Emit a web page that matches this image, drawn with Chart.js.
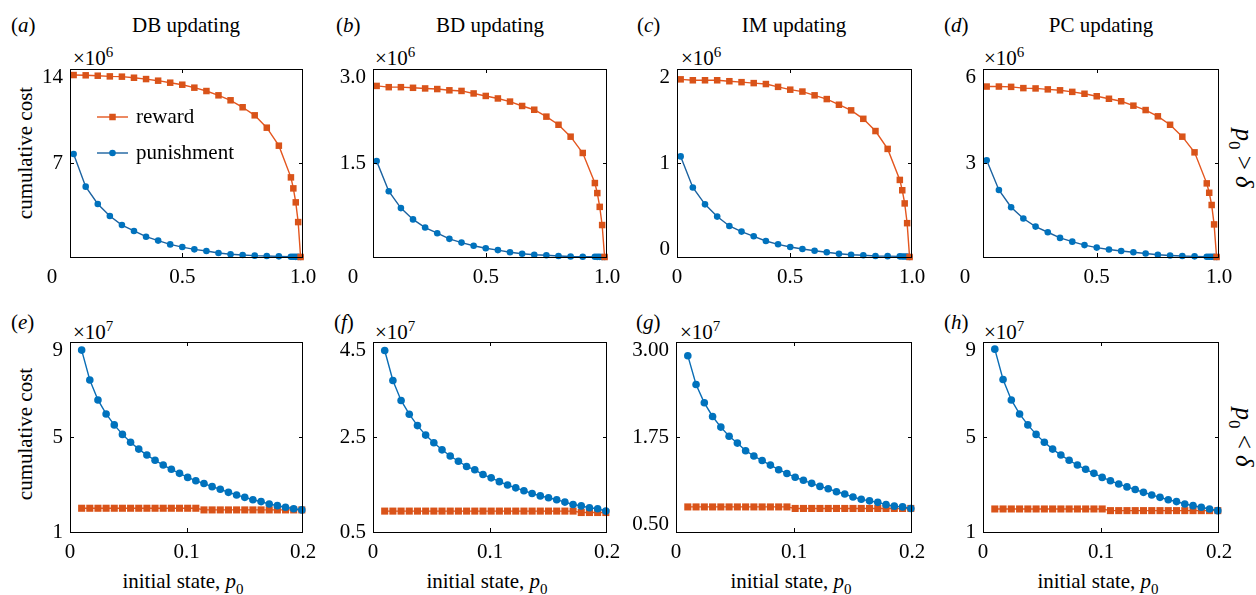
<!DOCTYPE html>
<html>
<head>
<meta charset="utf-8">
<script src="https://cdn.jsdelivr.net/npm/chart.js@4.4.1/dist/chart.umd.min.js"></script>
<style>
html,body{margin:0;padding:0;background:#fff;}
#fig{position:relative;width:1256px;height:595px;overflow:hidden;font-family:"Liberation Serif","Times New Roman",serif;color:#000;}
canvas.cv{position:absolute;}
.c{position:absolute;transform:translate(-50%,-50%);font-size:21px;line-height:1;white-space:nowrap;}
.l{position:absolute;transform:translateY(-50%);font-size:21px;line-height:1;white-space:nowrap;}
.sup{font-size:15px;position:relative;top:-8px;}
.sub{font-size:15px;position:relative;top:6px;}
.rotL{position:absolute;transform:translate(-50%,-50%) rotate(-90deg);font-size:21px;line-height:1;white-space:nowrap;}
.rotR{position:absolute;transform:translate(-50%,-50%) rotate(90deg);font-size:25px;line-height:1;white-space:nowrap;}
.rotR .sub{font-size:17px;top:7px;}
</style>
</head>
<body>
<div id="fig">
  <div class="l" style="left:11px;top:25px">(<i>a</i>)</div>
  <div class="c" style="left:186px;top:25px">DB updating</div>
  <div class="l" style="left:336px;top:25px">(<i>b</i>)</div>
  <div class="c" style="left:490px;top:25px">BD updating</div>
  <div class="l" style="left:637px;top:25px">(<i>c</i>)</div>
  <div class="c" style="left:794px;top:25px">IM updating</div>
  <div class="l" style="left:944px;top:25px">(<i>d</i>)</div>
  <div class="c" style="left:1101px;top:25px">PC updating</div>

  <div class="l" style="left:11px;top:322px">(<i>e</i>)</div>
  <div class="l" style="left:334px;top:322px">(<i>f</i>)</div>
  <div class="l" style="left:636px;top:322px">(<i>g</i>)</div>
  <div class="l" style="left:944px;top:322px">(<i>h</i>)</div>

  <div class="l" style="left:73px;top:58px">×10<span class="sup">6</span></div>
  <div class="l" style="left:375px;top:58px">×10<span class="sup">6</span></div>
  <div class="l" style="left:681px;top:58px">×10<span class="sup">6</span></div>
  <div class="l" style="left:984px;top:58px">×10<span class="sup">6</span></div>
  <div class="l" style="left:73px;top:332px">×10<span class="sup">7</span></div>
  <div class="l" style="left:375px;top:332px">×10<span class="sup">7</span></div>
  <div class="l" style="left:680px;top:332px">×10<span class="sup">7</span></div>
  <div class="l" style="left:984px;top:332px">×10<span class="sup">7</span></div>

  <div class="rotL" style="left:25px;top:153px">cumulative cost</div>
  <div class="rotL" style="left:25px;top:434px">cumulative cost</div>

  <div class="c" style="left:183px;top:581px">initial state, <i>p</i><span class="sub">0</span></div>
  <div class="c" style="left:487px;top:581px">initial state, <i>p</i><span class="sub">0</span></div>
  <div class="c" style="left:791px;top:581px">initial state, <i>p</i><span class="sub">0</span></div>
  <div class="c" style="left:1098px;top:581px">initial state, <i>p</i><span class="sub">0</span></div>

  <div class="rotR" style="left:1244px;top:158px"><i>p</i><span class="sub">0</span> &gt; <i>δ</i></div>
  <div class="rotR" style="left:1244px;top:437px"><i>p</i><span class="sub">0</span> &lt; <i>δ</i></div>
</div>

<script>
// ---------- DATA ----------
// top row: p0 > delta, x = initial state p0, values x10^6
const xTop = [0.05,0.10,0.15,0.20,0.25,0.30,0.35,0.40,0.45,0.50,0.55,0.60,0.65,0.70,0.75,0.80,0.85,0.90,0.95,0.96,0.97,0.98,0.99];

const rewardA = [13.55,13.53,13.50,13.45,13.43,13.35,13.25,13.13,12.98,12.83,12.61,12.36,12.04,11.67,11.15,10.55,9.63,8.29,5.93,5.11,4.07,2.60,0];
const punishA = [7.67,5.24,3.95,3.05,2.38,1.94,1.51,1.22,0.94,0.74,0.57,0.45,0.30,0.20,0.15,0.10,0.07,0.05,0.02,0.02,0.01,0.01,0];

const rewardB = [2.73,2.71,2.71,2.70,2.69,2.68,2.66,2.65,2.61,2.57,2.53,2.48,2.41,2.35,2.24,2.11,1.92,1.66,1.18,1.02,0.80,0.51,0];
const punishB = [1.53,1.05,0.78,0.60,0.47,0.38,0.29,0.23,0.18,0.14,0.11,0.075,0.053,0.037,0.027,0.016,0.008,0.005,0.003,0.002,0.002,0.001,0];

const rewardC = [1.89,1.88,1.88,1.88,1.87,1.86,1.85,1.84,1.81,1.78,1.76,1.72,1.68,1.62,1.56,1.47,1.34,1.15,0.82,0.71,0.57,0.36,0];
const punishC = [1.07,0.74,0.56,0.43,0.33,0.27,0.22,0.17,0.135,0.106,0.085,0.067,0.05,0.035,0.024,0.018,0.011,0.009,0.007,0.006,0.005,0.004,0];

const rewardD = [5.44,5.44,5.43,5.39,5.38,5.35,5.32,5.27,5.21,5.13,5.05,4.97,4.83,4.69,4.49,4.22,3.84,3.34,2.35,2.05,1.66,1.04,0];
const punishD = [3.09,2.14,1.59,1.23,0.97,0.79,0.61,0.49,0.38,0.30,0.24,0.19,0.15,0.11,0.07,0.05,0.03,0.02,0.01,0.01,0.01,0.005,0];

// bottom row: p0 < delta, values x10^7
const xBot = [0.010,0.017,0.024,0.031,0.038,0.045,0.052,0.059,0.066,0.073,0.080,0.087,0.094,0.101,0.108,0.115,0.122,0.129,0.136,0.143,0.150,0.157,0.164,0.171,0.178,0.185,0.192,0.199];

const rewardE = [2.00,2.00,2.00,2.00,2.00,2.00,2.00,2.00,2.00,2.00,2.00,2.00,2.00,2.00,2.00,1.93,1.93,1.93,1.93,1.93,1.93,1.93,1.93,1.93,1.93,1.93,1.93,1.93];
const punishE = [8.66,7.40,6.56,5.97,5.51,5.11,4.78,4.49,4.24,4.02,3.82,3.64,3.47,3.30,3.16,3.04,2.91,2.80,2.67,2.56,2.46,2.36,2.28,2.18,2.11,2.04,1.98,1.93];

const rewardF = [0.94,0.94,0.94,0.94,0.94,0.94,0.94,0.94,0.94,0.94,0.94,0.94,0.94,0.94,0.94,0.94,0.94,0.94,0.94,0.94,0.94,0.94,0.94,0.94,0.91,0.91,0.91,0.91];
const punishF = [4.32,3.69,3.27,2.98,2.74,2.54,2.38,2.23,2.10,1.99,1.88,1.81,1.71,1.64,1.56,1.49,1.43,1.37,1.31,1.26,1.22,1.18,1.13,1.08,1.05,1.01,0.99,0.94];

const rewardG = [0.83,0.83,0.83,0.83,0.83,0.83,0.83,0.83,0.83,0.83,0.83,0.83,0.83,0.81,0.81,0.81,0.81,0.81,0.81,0.81,0.81,0.81,0.81,0.81,0.81,0.81,0.81,0.81];
const punishG = [2.82,2.44,2.20,2.02,1.88,1.76,1.67,1.57,1.50,1.44,1.38,1.32,1.27,1.22,1.18,1.14,1.10,1.07,1.03,1.00,0.96,0.93,0.91,0.89,0.86,0.84,0.83,0.81];

const rewardH = [1.97,1.97,1.97,1.97,1.97,1.97,1.97,1.97,1.97,1.97,1.97,1.97,1.97,1.97,1.90,1.90,1.90,1.90,1.90,1.90,1.90,1.90,1.90,1.90,1.90,1.90,1.90,1.90];
const punishH = [8.70,7.42,6.56,5.97,5.51,5.11,4.78,4.49,4.24,4.02,3.82,3.64,3.47,3.30,3.16,3.02,2.90,2.79,2.67,2.56,2.46,2.36,2.28,2.18,2.11,2.04,1.97,1.90];

// tick labels
const xTickValsTop = [0.5, 1.0];
const xTickLblsTop = ['0.5', '1.0'];
const xTickValsBot = [0, 0.1, 0.2];
const xTickLblsBot = ['0', '0.1', '0.2'];

const yTickValsA = [7, 14];        const yTickLblsA = ['7', '14'];
const yTickValsB = [1.5, 3.0];     const yTickLblsB = ['1.5', '3.0'];
const yTickValsC = [0, 1, 2];      const yTickLblsC = ['0', '1', '2'];
const yTickValsD = [3, 6];         const yTickLblsD = ['3', '6'];
const yTickValsE = [1, 5, 9];      const yTickLblsE = ['1', '5', '9'];
const yTickValsF = [0.5, 2.5, 4.5];const yTickLblsF = ['0.5', '2.5', '4.5'];
const yTickValsG = [0.5, 1.75, 3.0];const yTickLblsG = ['0.50', '1.75', '3.00'];
const yTickValsH = [1, 5, 9];      const yTickLblsH = ['1', '5', '9'];

const seriesNames = ['reward', 'punishment'];

// ---------- LAYOUT ----------
const panels = [
  {box:[70,69,303,257],   x:xTop, r:rewardA, p:punishA, xr:[0.035,1], yr:[0,14],   xt:[xTickValsTop,xTickLblsTop], yt:[yTickValsA,yTickLblsA], sTop:true, sBot:false, zeroDx:-18, legend:true,  top:true},
  {box:[373,69,607,257],  x:xTop, r:rewardB, p:punishB, xr:[0.035,1], yr:[0,3],    xt:[xTickValsTop,xTickLblsTop], yt:[yTickValsB,yTickLblsB], sTop:true, sBot:false, zeroDx:-20, legend:false, top:true},
  {box:[677,69,912,257],  x:xTop, r:rewardC, p:punishC, xr:[0.035,1], yr:[0,2],    xt:[xTickValsTop,xTickLblsTop], yt:[yTickValsC,yTickLblsC], sTop:true, sBot:true,  zeroDx:0,   legend:false, top:true},
  {box:[983,69,1219,257], x:xTop, r:rewardD, p:punishD, xr:[0.035,1], yr:[0,6],    xt:[xTickValsTop,xTickLblsTop], yt:[yTickValsD,yTickLblsD], sTop:true, sBot:false, zeroDx:-18, legend:false, top:true},
  {box:[70,342,303,532],  x:xBot, r:rewardE, p:punishE, xr:[0,0.2],   yr:[1,9],    xt:[xTickValsBot,xTickLblsBot], yt:[yTickValsE,yTickLblsE], sTop:true, sBot:false, zeroDx:null, legend:false, top:false},
  {box:[373,342,607,532], x:xBot, r:rewardF, p:punishF, xr:[0,0.2],   yr:[0.5,4.5],xt:[xTickValsBot,xTickLblsBot], yt:[yTickValsF,yTickLblsF], sTop:true, sBot:false, zeroDx:null, legend:false, top:false},
  {box:[676,342,912,532], x:xBot, r:rewardG, p:punishG, xr:[0,0.2],   yr:[0.5,3.0],xt:[xTickValsBot,xTickLblsBot], yt:[yTickValsG,yTickLblsG], sTop:true, sBot:true,  zeroDx:null, legend:false, top:false},
  {box:[983,342,1219,532],x:xBot, r:rewardH, p:punishH, xr:[0,0.2],   yr:[1,9],    xt:[xTickValsBot,xTickLblsBot], yt:[yTickValsH,yTickLblsH], sTop:true, sBot:false, zeroDx:null, legend:false, top:false}
];

const FONT = "'Liberation Serif', 'Times New Roman', serif";
const FS = 21;
const RED_LINE = '#E4561F', RED_MK = '#D95319';
const BLUE_LINE_TOP = '#1B62A0', BLUE_LINE_BOT = '#0A6DB5', BLUE_MK = '#0072BD';
const PADL = 70, PADT = 25, PADR = 30, PADB = 40;

const framePlugin = {
  id: 'frame',
  afterDraw(chart, args, opts) {
    const ctx = chart.ctx;
    const a = chart.chartArea;
    const xs = chart.scales.x, ys = chart.scales.y;
    const L = Math.round(a.left), T = Math.round(a.top), R = Math.round(a.right), B = Math.round(a.bottom);
    ctx.save();
    ctx.strokeStyle = '#000';
    ctx.lineWidth = 1;
    ctx.strokeRect(L + 0.5, T + 0.5, R - L - 1, B - T);
    const tl = 4;
    ctx.beginPath();
    xs.ticks.forEach(t => {
      if (t.value > xs.min + 1e-9 && t.value < xs.max - 1e-9) {
        const px = Math.round(xs.getPixelForValue(t.value)) + 0.5;
        ctx.moveTo(px, B); ctx.lineTo(px, B - tl);
        ctx.moveTo(px, T); ctx.lineTo(px, T + tl);
      }
    });
    ys.ticks.forEach(t => {
      if (t.value > ys.min + 1e-9 && t.value < ys.max - 1e-9) {
        const py = Math.round(ys.getPixelForValue(t.value)) + 0.5;
        ctx.moveTo(L, py); ctx.lineTo(L + tl, py);
        ctx.moveTo(R, py); ctx.lineTo(R - tl, py);
      }
    });
    ctx.stroke();
    ctx.fillStyle = '#000';
    ctx.font = FS + 'px ' + FONT;
    if (opts.zeroDx !== null && opts.zeroDx !== undefined) {
      ctx.textAlign = 'center';
      ctx.textBaseline = 'middle';
      ctx.fillText('0', L + opts.zeroDx, B + 20);
    }
    if (opts.legend) {
      const ds = chart.data.datasets;
      const rows = [{d: ds[0], y: T + 48}, {d: ds[1], y: T + 84}];
      rows.forEach(rw => {
        const x0 = L + 27, x1 = L + 58, xm = (x0 + x1) / 2;
        ctx.strokeStyle = rw.d.borderColor;
        ctx.lineWidth = rw.d.borderWidth;
        ctx.beginPath(); ctx.moveTo(x0, rw.y); ctx.lineTo(x1, rw.y); ctx.stroke();
        ctx.fillStyle = rw.d.pointBackgroundColor;
        if (rw.d.pointStyle === 'rect') {
          const s = rw.d.pointRadius * Math.SQRT1_2;
          ctx.fillRect(xm - s, rw.y - s, 2 * s, 2 * s);
        } else {
          ctx.beginPath(); ctx.arc(xm, rw.y, rw.d.pointRadius, 0, Math.PI * 2); ctx.fill();
        }
        ctx.fillStyle = '#000';
        ctx.textAlign = 'left';
        ctx.textBaseline = 'middle';
        ctx.fillText(rw.d.label, L + 66, rw.y);
      });
    }
    ctx.restore();
  }
};

function build() {
  const fig = document.getElementById('fig');
  panels.forEach(pn => {
    const [L, T, R, B] = pn.box;
    const W = (R - L) + PADL + PADR;
    const H = (B - T) + PADT + PADB;
    const cv = document.createElement('canvas');
    cv.className = 'cv';
    cv.width = W; cv.height = H;
    cv.style.left = (L - PADL) + 'px';
    cv.style.top = (T - PADT) + 'px';
    cv.style.width = W + 'px'; cv.style.height = H + 'px';
    fig.appendChild(cv);

    const rPts = pn.x.map((v, i) => ({x: v, y: pn.r[i]}));
    const pPts = pn.x.map((v, i) => ({x: v, y: pn.p[i]}));
    const rRad = pn.top ? 4.6 : 5.0;
    const pRad = pn.top ? 3.3 : 3.8;

    const rewardDs = {
      label: seriesNames[0], data: rPts,
      borderColor: RED_LINE, borderWidth: 1.4,
      pointStyle: 'rect', pointRadius: rRad, pointBorderWidth: 0,
      pointBackgroundColor: RED_MK, pointBorderColor: RED_MK,
      tension: 0, clip: false, order: pn.top ? 0 : 1
    };
    const punishDs = {
      label: seriesNames[1], data: pPts,
      borderColor: pn.top ? BLUE_LINE_TOP : BLUE_LINE_BOT, borderWidth: 1.4,
      pointStyle: 'circle', pointRadius: pRad, pointBorderWidth: 0,
      pointBackgroundColor: BLUE_MK, pointBorderColor: BLUE_MK,
      tension: 0, clip: false, order: pn.top ? 1 : 0
    };

    const [xv, xl] = pn.xt;
    const [yv, yl] = pn.yt;

    new Chart(cv, {
      type: 'line',
      data: {datasets: [rewardDs, punishDs]},
      plugins: [framePlugin],
      options: {
        responsive: false,
        animation: false,
        events: [],
        layout: {padding: {left: 0, top: PADT, right: PADR, bottom: 0}},
        plugins: {
          legend: {display: false},
          tooltip: {enabled: false},
          frame: {zeroDx: pn.zeroDx, legend: pn.legend}
        },
        scales: {
          x: {
            type: 'linear', min: pn.xr[0], max: pn.xr[1],
            grid: {display: false, drawTicks: false},
            border: {display: false},
            afterBuildTicks: s => { s.ticks = xv.map(v => ({value: v})); },
            afterFit: s => { s.height = PADB; },
            ticks: {
              autoSkip: false, maxRotation: 0, padding: 10, color: '#000',
              font: {family: FONT, size: FS, lineHeight: '20px'},
              callback: (v, i) => xl[i]
            }
          },
          y: {
            type: 'linear', min: pn.yr[0], max: pn.yr[1],
            grid: {display: false, drawTicks: false},
            border: {display: false},
            afterBuildTicks: s => { s.ticks = yv.map(v => ({value: v})); },
            afterFit: s => { s.width = PADL; },
            ticks: {
              autoSkip: false, padding: 7, color: '#000',
              font: {family: FONT, size: FS, lineHeight: '16px'},
              callback: (v, i) => {
                const lb = yl[i];
                if (i === yl.length - 1 && pn.sTop) return ['', lb];
                if (i === 0 && pn.sBot) return [lb, ''];
                return lb;
              }
            }
          }
        }
      }
    });
  });
}

let built = false;
function go() { if (!built) { built = true; build(); } }
if (document.fonts && document.fonts.load) {
  Promise.all([
    document.fonts.load(FS + "px 'Liberation Serif'"),
    document.fonts.load("italic " + FS + "px 'Liberation Serif'")
  ]).then(go, go);
  setTimeout(go, 1500);
} else {
  go();
}
</script>
</body>
</html>
